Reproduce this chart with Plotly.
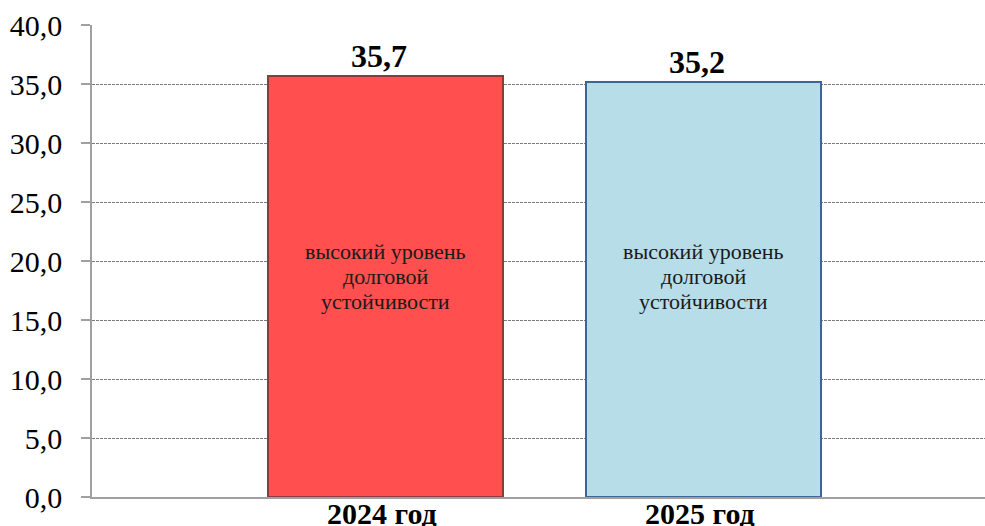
import plotly.graph_objects as go

categories = ["2024 год", "2025 год"]
values = [35.7, 35.2]
bar_colors = ["#FF4F4F", "#B7DDE8"]
border_colors = ["#8C3B3B", "#3F6497"]
inner_lines = ["высокий уровень", "долговой", "устойчивости"]
y_ticks = [0, 5, 10, 15, 20, 25, 30, 35, 40]

serif = "Liberation Serif, Times New Roman, serif"

fig = go.Figure()
fig.add_trace(go.Bar(
    x=categories,
    y=values,
    width=0.739,
    marker=dict(color=bar_colors, line=dict(color=border_colors, width=2)),
    hoverinfo="skip",
))

for c, v in zip(categories, values):
    # value label above the bar
    fig.add_annotation(
        x=c, y=v, text=f"<b>{v:.1f}</b>".replace(".", ","), showarrow=False,
        font=dict(family=serif, size=32, color="black"),
        xanchor="center", yanchor="bottom", xshift=-7, yshift=0,
    )
    # three-line note inside the bar, with the reference's tighter line spacing
    for i, line in enumerate(inner_lines):
        fig.add_annotation(
            x=c, y=18.7, text=line, showarrow=False,
            font=dict(family=serif, size=22, color="#1a1a1a"),
            xanchor="center", yanchor="middle", yshift=25 * (1 - i),
        )
    # category label just under the axis
    fig.add_annotation(
        x=c, y=0, text=f"<b>{c}</b>", showarrow=False,
        font=dict(family=serif, size=30, color="black"),
        xanchor="center", yanchor="top", xshift=-4, yshift=2,
    )

fig.update_layout(
    width=985, height=526,
    margin=dict(l=92, r=0, t=25, b=29, autoexpand=False),
    paper_bgcolor="white", plot_bgcolor="white",
    separators=", ",
    showlegend=False,
    bargap=0,
)
fig.update_xaxes(
    type="category",
    range=[-0.923, 1.885],
    automargin=False,
    showgrid=False,
    showline=True, linecolor="#A0A0A0", linewidth=1.5,
    ticks="",
    showticklabels=False,
    fixedrange=True,
)
fig.update_yaxes(
    range=[0, 40],
    automargin=False,
    tickvals=y_ticks,
    tickformat=".1f",
    showgrid=True, gridcolor="#7A7A7A", griddash="3px,1px", gridwidth=1,
    showline=True, linecolor="#A0A0A0", linewidth=1.5,
    ticks="outside", ticklen=9, tickcolor="#A0A0A0", tickwidth=1.5,
    tickfont=dict(family=serif, size=30, color="black"),
    ticklabelstandoff=13,
    zeroline=False,
    fixedrange=True,
)

fig.write_html(
    "out.html",
    config={"displayModeBar": False},
    post_script="document.body.style.margin='0';document.body.style.overflow='hidden';",
)
